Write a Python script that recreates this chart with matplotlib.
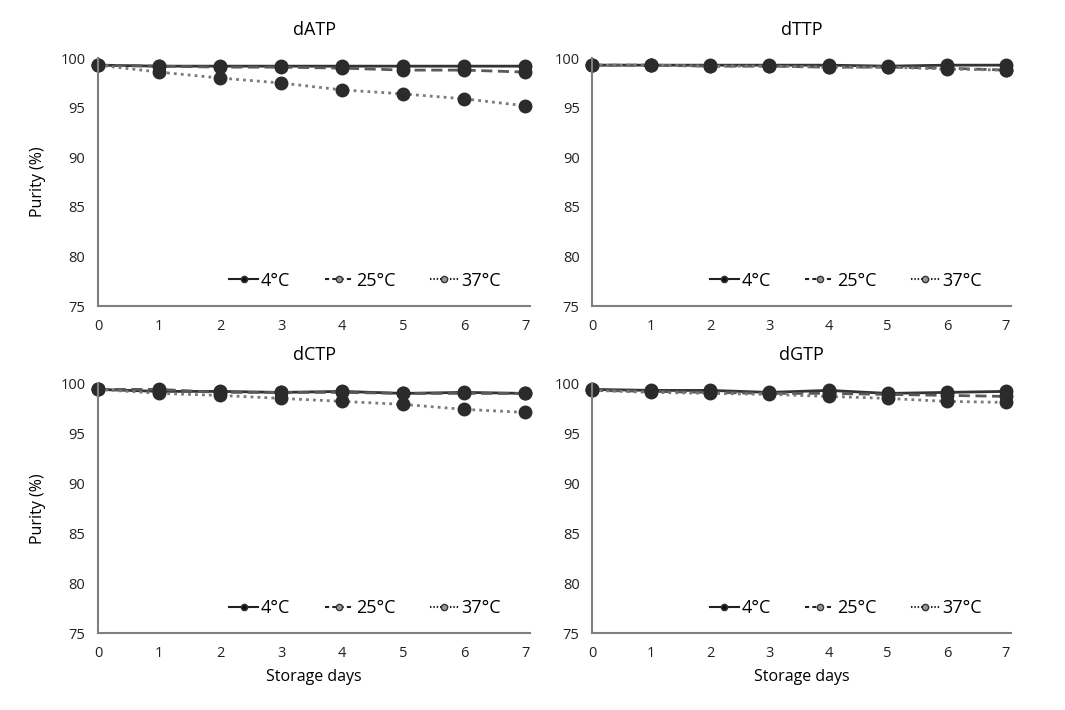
import matplotlib
matplotlib.use("Agg")
import matplotlib.pyplot as plt
from matplotlib.lines import Line2D

plt.rcParams['font.family'] = ['Open Sans', 'DejaVu Sans']

days = [0, 1, 2, 3, 4, 5, 6, 7]
temps = ["4°C", "25°C", "37°C"]
titles = ["dATP", "dTTP", "dCTP", "dGTP"]

# purity (%) per nucleotide, one list per temperature
datp_4 = [99.3, 99.2, 99.2, 99.2, 99.2, 99.2, 99.2, 99.2]
datp_25 = [99.3, 99.2, 99.1, 99.1, 99.0, 98.8, 98.8, 98.6]
datp_37 = [99.3, 98.6, 98.0, 97.5, 96.8, 96.4, 95.9, 95.2]

dttp_4 = [99.3, 99.3, 99.3, 99.3, 99.3, 99.2, 99.3, 99.3]
dttp_25 = [99.3, 99.3, 99.2, 99.2, 99.1, 99.1, 99.0, 98.8]
dttp_37 = [99.3, 99.3, 99.2, 99.2, 99.1, 99.1, 98.9, 98.8]

dctp_4 = [99.4, 99.2, 99.2, 99.1, 99.2, 99.0, 99.1, 99.0]
dctp_25 = [99.4, 99.4, 99.1, 99.1, 99.1, 99.0, 99.0, 99.0]
dctp_37 = [99.4, 99.0, 98.8, 98.5, 98.2, 97.9, 97.4, 97.1]

dgtp_4 = [99.4, 99.3, 99.3, 99.1, 99.3, 99.0, 99.1, 99.2]
dgtp_25 = [99.3, 99.2, 99.1, 99.0, 99.0, 98.9, 98.8, 98.7]
dgtp_37 = [99.3, 99.1, 99.0, 98.9, 98.7, 98.5, 98.2, 98.1]

data = [[datp_4, datp_25, datp_37],
        [dttp_4, dttp_25, dttp_37],
        [dctp_4, dctp_25, dctp_37],
        [dgtp_4, dgtp_25, dgtp_37]]

line_colors = ["#333333", "#595959", "#7a7a7a"]
styles = ["-", (0, (4, 2)), (0, (1, 1.5))]
leg_styles = ["-", (0, (2, 1.5)), (0, (0.7, 0.9))]
leg_face = ["#111111", "#999999", "#999999"]

fig = plt.figure(figsize=(10.65, 7.10), dpi=100)
positions = [[0.092, 0.569, 0.406, 0.349],
             [0.556, 0.569, 0.393, 0.349],
             [0.092, 0.108, 0.406, 0.352],
             [0.556, 0.108, 0.393, 0.352]]

for i in range(4):
    ax = fig.add_axes(positions[i])
    for j in range(3):
        ax.plot(days, data[i][j], linestyle=styles[j], color=line_colors[j], lw=2,
                marker="o", markersize=9, markerfacecolor="#2b2b2b",
                markeredgecolor="#2b2b2b", clip_on=False)
    ax.set_xlim(0, 7.08)
    ax.set_ylim(75, 100)
    ax.set_yticks([75, 80, 85, 90, 95, 100])
    ax.set_xticks(days)
    ax.tick_params(length=0, labelsize=10.5, colors="#222222", pad=9)
    for s in ["top", "right"]:
        ax.spines[s].set_visible(False)
    for s in ["left", "bottom"]:
        ax.spines[s].set_color("#7f7f7f")
        ax.spines[s].set_linewidth(1.5)
    ax.set_title(titles[i], fontsize=13, pad=17)
    if i % 2 == 0:
        ax.set_ylabel("Purity (%)", fontsize=11.5, labelpad=10)
    if i >= 2:
        ax.set_xlabel("Storage days", fontsize=11.5, labelpad=6)
    handles = [Line2D([], [], color="#222222", lw=1.5, linestyle=leg_styles[j],
                      marker="o", markersize=4.5, markerfacecolor=leg_face[j],
                      markeredgecolor="#333333") for j in range(3)]
    ax.legend(handles, temps, loc="lower right", bbox_to_anchor=(0.97, 0.0), ncol=3,
              frameon=False, fontsize=13, handlelength=1.6, columnspacing=1.9,
              handletextpad=0.15)

fig.savefig("out.png", dpi=100)
